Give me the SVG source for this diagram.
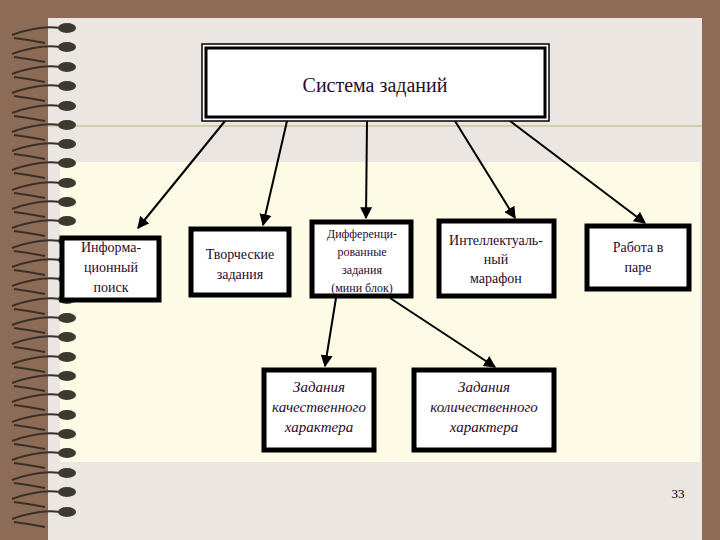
<svg xmlns="http://www.w3.org/2000/svg" width="720" height="540" viewBox="0 0 720 540">
<defs>
<style>
.b{fill:#fff;stroke:#000;stroke-width:5}
.t{font-family:"Liberation Serif",serif;font-size:14px;fill:#2a0a2a;text-anchor:middle}
.i{font-style:italic;font-size:15px}
.c line{stroke:#000;stroke-width:2;marker-end:url(#a)}
.r{fill:#3a3a30}
.w{stroke:#3a3028;stroke-width:2;fill:none}
</style>
<marker id="a" viewBox="0 0 10 10" refX="9" refY="5" markerWidth="6" markerHeight="6" orient="auto"><path d="M0,0L10,5L0,10z" fill="#000"/></marker>
</defs>
<rect width="720" height="540" fill="#8c6c56"/>
<rect x="48" y="18" width="654" height="522" fill="#ebe6e2"/>
<line x1="48" y1="126" x2="702" y2="126" stroke="#c8c49a" stroke-width="1.5"/>
<rect x="60" y="162" width="640" height="300" fill="#fdfbe6"/>
<g id="spiral">
<g id="ring"><path class="w" d="M12,35 Q40,25 60,28 M14,38 Q30,40 45,43"/><ellipse class="r" cx="67" cy="28" rx="9" ry="5"/></g>
<use href="#ring" y="19"/><use href="#ring" y="39"/><use href="#ring" y="58"/><use href="#ring" y="78"/><use href="#ring" y="97"/><use href="#ring" y="116"/><use href="#ring" y="135"/><use href="#ring" y="155"/><use href="#ring" y="174"/><use href="#ring" y="193"/><use href="#ring" y="213"/><use href="#ring" y="232"/><use href="#ring" y="251"/><use href="#ring" y="271"/><use href="#ring" y="290"/><use href="#ring" y="309"/><use href="#ring" y="329"/><use href="#ring" y="348"/><use href="#ring" y="367"/><use href="#ring" y="387"/><use href="#ring" y="406"/><use href="#ring" y="425"/><use href="#ring" y="445"/><use href="#ring" y="464"/><use href="#ring" y="484"/>
</g>
<g class="c">
<line x1="225" y1="121" x2="138" y2="228"/>
<line x1="287" y1="121" x2="263" y2="225"/>
<line x1="367" y1="121" x2="366" y2="218"/>
<line x1="455" y1="121" x2="515" y2="218"/>
<line x1="510" y1="121" x2="645" y2="223"/>
<line x1="336" y1="298" x2="325" y2="366"/>
<line x1="390" y1="298" x2="495" y2="367"/>
</g>
<g id="top"><rect x="202" y="44" width="347" height="77" fill="#fff" stroke="#000" stroke-width="1.5"/><rect x="206" y="48" width="339" height="69" fill="#fff" stroke="#000" stroke-width="3"/><text class="t" x="375" y="92" style="font-size:20px">Система заданий</text></g>
<g id="n1"><rect class="b" x="62" y="238" width="97" height="62"/><text class="t" x="111" y="252">Информа-</text><text class="t" x="111" y="272">ционный</text><text class="t" x="111" y="292">поиск</text></g>
<g id="n2"><rect class="b" x="191" y="229" width="98" height="66"/><text class="t" x="240" y="259">Творческие</text><text class="t" x="240" y="279">задания</text></g>
<g id="n3"><rect class="b" x="312" y="222" width="99" height="74"/><text class="t" x="362" y="238" style="font-size:12px">Дифференци-</text><text class="t" x="362" y="256" style="font-size:12px">рованные</text><text class="t" x="362" y="274" style="font-size:12px">задания</text><text class="t" x="362" y="292" style="font-size:12px">(мини блок)</text></g>
<g id="n4"><rect class="b" x="439" y="221" width="115" height="75"/><text class="t" x="496" y="245">Интеллектуаль-</text><text class="t" x="496" y="264">ный</text><text class="t" x="496" y="283">марафон</text></g>
<g id="n5"><rect class="b" x="587" y="226" width="102" height="63"/><text class="t" x="638" y="252">Работа в</text><text class="t" x="638" y="272">паре</text></g>
<g id="n6"><rect class="b" x="264" y="370" width="110" height="80"/><text class="t i" x="319" y="392">Задания</text><text class="t i" x="319" y="412">качественного</text><text class="t i" x="319" y="432">характера</text></g>
<g id="n7"><rect class="b" x="414" y="370" width="140" height="80"/><text class="t i" x="484" y="392">Задания</text><text class="t i" x="484" y="412">количественного</text><text class="t i" x="484" y="432">характера</text></g>
<text x="678" y="498" style="font-family:'Liberation Serif',serif;font-size:13px;text-anchor:middle">33</text>
</svg>
